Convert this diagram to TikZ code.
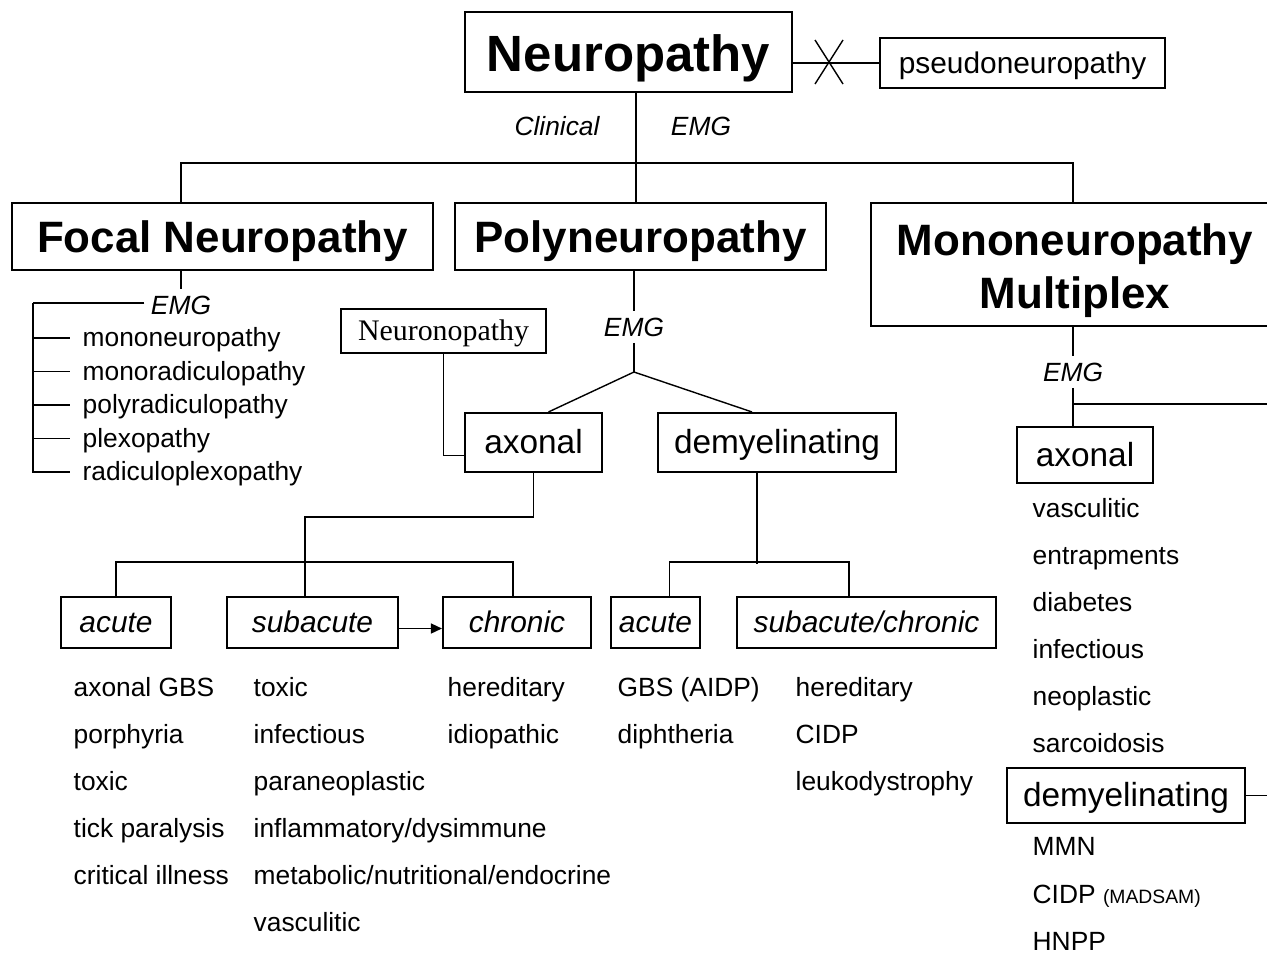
\documentclass[tikz,border=0pt]{standalone}
\usepackage{fontspec}
\setmainfont{Liberation Sans}
\newfontfamily\timesfont{Liberation Serif}
\usetikzlibrary{arrows.meta, calc, positioning}

\begin{document}
\begin{tikzpicture}[x=0.02cm, y=-0.02cm, line width=0.8pt,
  box/.style={draw, line width=1.2pt, inner sep=0pt, align=center, text depth=0pt},
  big/.style={font=\fontsize{25}{30}\selectfont\bfseries, text height=18.5pt},
  kind/.style={font=\fontsize{19}{22}\selectfont, text height=12.7pt},
  tempo/.style={font=\fontsize{17}{20}\selectfont\itshape, text height=11pt},
  lbl/.style={font=\fontsize{15}{18}\selectfont\itshape},
  item/.style={anchor=west, inner sep=0pt, text height=12pt, text depth=1.8pt, font=\fontsize{15}{18}\selectfont}]
\useasboundingbox (0,0) rectangle (1267,954);
\clip (0,0) rectangle (1267,954);
%
\node[box, minimum width=6.54cm, minimum height=1.6cm, text height=22.5pt, font=\fontsize{29}{34}\selectfont\bfseries] (neuro) at (628.5,52) {Neuropathy};
\node[box, minimum width=5.7cm, minimum height=1cm, text height=12pt, font=\fontsize{17}{20}\selectfont] (pseudo) at (1022.5,63) {pseudoneuropathy};
\draw (neuro.east |- pseudo) -- (pseudo.west);
\coordinate (cross) at (829,62);
\draw ($(cross)+(-14,-22)$) -- ($(cross)+(14,22)$);
\draw ($(cross)+(14,-22)$) -- ($(cross)+(-14,22)$);
\node[lbl] (clin) at (557,126) {Clinical};
\node[lbl] (emg) at (701,126) {EMG};
%
\node[box, big, minimum width=8.42cm, minimum height=1.34cm] (focal) at (222.5,236.5) {Focal Neuropathy};
\node[box, big, minimum width=7.42cm, minimum height=1.34cm] (poly) at (640.5,236.5) {Polyneuropathy};
\node[box, big, minimum width=8.16cm, minimum height=2.46cm, text height={}, text depth={}] (mono) at (1075,264.5) {\rule{0pt}{25pt}Mononeuropathy\\Multiplex};
\coordinate (bus) at (636,163);
\coordinate (busl) at (181,163);
\coordinate (busr) at (1073,163);
\draw (neuro.south -| bus) -- (bus);
\draw (busl |- focal.north) -- (busl) -- (busr) -- (busr |- mono.north);
\draw (bus) -- (bus |- poly.north);
% focal neuropathy
\node[lbl] (femg) at (181,305) {EMG};
\draw (focal.south -| femg) -- (femg.north);
\coordinate (ftop) at (33,303);
\draw (femg.west |- ftop) -- (ftop);
\foreach \t [count=\i] in {mononeuropathy, monoradiculopathy, polyradiculopathy, plexopathy, radiculoplexopathy}
  \node[item] (f\i) at (82,{338+33.5*(\i-1)}) {\t};
\draw (ftop) |- ([xshift=-0.24cm]f5.west);
\foreach \i in {1,...,4}
  \draw (ftop |- f\i.west) -- ([xshift=-0.24cm]f\i.west);
% polyneuropathy
\node[box, font={\timesfont\fontsize{17}{20}\selectfont}, text height=11.3pt, minimum width=4.1cm, minimum height=0.88cm] (neurono) at (443.5,331) {Neuronopathy};
\node[lbl] (pemg) at (634,327) {EMG};
\draw (poly.south -| pemg) -- (pemg.north);
\coordinate (fork) at (634,372);
\draw (pemg.south) -- (fork);
\node[box, kind, minimum width=2.74cm, minimum height=1.18cm] (pax) at (533.5,442.5) {axonal};
\node[box, kind, minimum width=4.76cm, minimum height=1.18cm] (pdem) at (777,442.5) {demyelinating};
\draw ([xshift=0.3cm]pax.north) -- (fork) -- ([xshift=-0.5cm]pdem.north);
\draw (neurono.south) |- ([yshift=-0.26cm]pax.west);
%
\node[box, tempo, minimum width=2.2cm, minimum height=1.02cm] (pacute) at (116,622.5) {acute};
\node[box, tempo, minimum width=3.42cm, minimum height=1.02cm] (psub) at (312.5,622.5) {subacute};
\node[box, tempo, minimum width=2.96cm, minimum height=1.02cm] (pchron) at (517,622.5) {chronic};
\coordinate (pbend) at (305,517);
\draw (pax.south) |- (pbend) -- (pbend |- psub.north);
\draw (pacute.north) -- ++(0,-34) -| ([xshift=-0.08cm]pchron.north);
\draw[-{Triangle[length=0.22cm, width=0.2cm]}] ([yshift=-0.12cm]psub.east) -- ([yshift=-0.12cm]pchron.west);
%
\node[box, tempo, minimum width=1.78cm, minimum height=1.02cm] (dacute) at (655.5,622.5) {acute};
\node[box, tempo, minimum width=5.18cm, minimum height=1.02cm] (dsub) at (866.5,622.5) {subacute/chronic};
\draw ([xshift=-0.4cm]pdem.south) -- ++(0,91);
\draw ([xshift=0.28cm]dacute.north) -- ++(0,-34) -| ([xshift=-0.35cm]dsub.north);
% causes
\foreach \t [count=\i] in {axonal GBS, porphyria, toxic, tick paralysis, critical illness}
  \node[item] (a\i) at (73,{688+47*(\i-1)}) {\t};
\foreach \t [count=\i] in {toxic, infectious, paraneoplastic, inflammatory/dysimmune, metabolic/nutritional/endocrine, vasculitic}
  \node[item] (s\i) at (253,{688+47*(\i-1)}) {\t};
\foreach \t [count=\i] in {hereditary, idiopathic}
  \node[item] (c\i) at (447,{688+47*(\i-1)}) {\t};
\foreach \t [count=\i] in {GBS (AIDP), diphtheria}
  \node[item] (g\i) at (617,{688+47*(\i-1)}) {\t};
\foreach \t [count=\i] in {hereditary, CIDP, leukodystrophy}
  \node[item] (h\i) at (795,{688+47*(\i-1)}) {\t};
% mononeuropathy multiplex
\node[lbl] (memg) at (1073,372) {EMG};
\draw (mono.south -| memg) -- (memg.north);
\node[box, kind, minimum width=2.72cm, minimum height=1.12cm] (max) at (1085,455) {axonal};
\draw (memg.south) -- (memg.south |- max.north);
\coordinate (mend) at (1290,404);
\draw (memg.south |- mend) -- (mend);
\foreach \t [count=\i] in {vasculitic, entrapments, diabetes, infectious, neoplastic, sarcoidosis}
  \node[item] (m\i) at (1032,{509+47*(\i-1)}) {\t};
\node[box, kind, minimum width=4.76cm, minimum height=1.1cm] (mdem) at (1126,795.5) {demyelinating};
\coordinate (mdemend) at (1290,795.5);
\draw (mdem.east) -- (mdemend);
\foreach \t [count=\i] in {MMN, {CIDP {\fontsize{11}{13}\selectfont(MADSAM)}}, HNPP}
  \node[item] (d\i) at (1032,{847+47.5*(\i-1)}) {\t};
\end{tikzpicture}
\end{document}
